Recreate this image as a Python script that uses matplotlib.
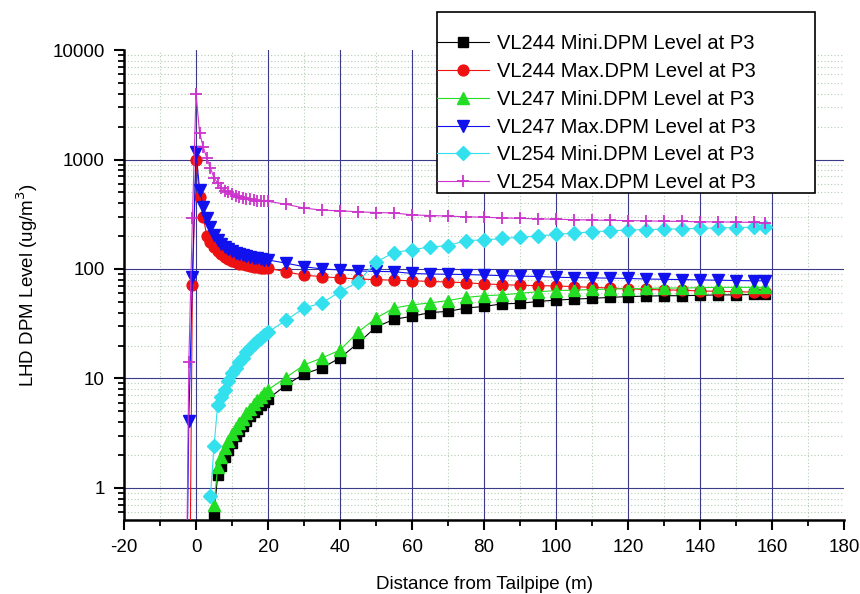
import numpy as np
import matplotlib
matplotlib.use('Agg')
import matplotlib.pyplot as plt
from matplotlib.patches import Rectangle
from matplotlib.ticker import FixedLocator, NullFormatter, LogLocator

plt.rcParams['font.family'] = ['Liberation Sans', 'DejaVu Sans']
plt.rcParams['axes.unicode_minus'] = False

# distances (m)
x_near_max = [-3, -2, -1, 0, 1, 2, 3, 4, 5, 6, 7, 8, 9, 10, 11, 12, 13, 14, 15, 16, 17, 18, 19, 20]
x_near_min = [5, 6, 7, 8, 9, 10, 11, 12, 13, 14, 15, 16, 17, 18, 19, 20]
x_near_cyan = [4, 5, 6, 7, 8, 9, 10, 11, 12, 13, 14, 15, 16, 17, 18, 19, 20]
x_far = [25, 30, 35, 40, 45, 50, 55, 60, 65, 70, 75, 80, 85, 90, 95, 100,
         105, 110, 115, 120, 125, 130, 135, 140, 145, 150, 155, 158]

# VL244 mini / max
vl244_min = [0.58, 1.3, 1.6, 1.9, 2.2, 2.6, 3.0, 3.3, 3.7, 4.1, 4.5, 4.9, 5.3, 5.7, 6.1, 6.5,
             8.7, 11, 12.5, 15.4, 21, 29.5, 34.7, 37, 40, 41, 44, 45.5, 48, 48.6, 50.5, 52,
             53, 54, 55, 56, 56.5, 57, 57, 57.5, 58, 58, 58.5, 58.5]
vl244_max = [0.01, 0.01, 71, 1000, 450, 300, 200, 175, 158, 145, 137, 130, 124, 119, 115, 112,
             110, 108, 106, 105, 104, 103, 102, 102,
             94, 88, 85, 83, 81, 80, 79, 78, 77, 76, 75, 73, 72, 71, 70.5, 70,
             69, 68, 67, 66, 65, 64.5, 64, 63, 62.5, 62, 61.5, 61]

# VL247 mini / max
vl247_min = [0.7, 1.55, 1.9, 2.3, 2.7, 3.1, 3.5, 3.9, 4.3, 4.8, 5.3, 5.8, 6.3, 6.8, 7.3, 7.9,
             10.2, 13.3, 15.4, 18.2, 26.5, 35.6, 44, 47, 49, 51.5, 55, 57, 58, 60, 62, 63.5,
             64, 65, 65.5, 66, 66.5, 67, 67, 67.5, 68, 68, 68, 68]
vl247_max = [0.01, 4.1, 85, 1180, 530, 370, 290, 240, 205, 185, 170, 160, 152, 146, 141, 137,
             134, 131, 129, 127, 125, 124, 122, 121,
             113, 105, 100, 98, 96, 95, 94.5, 91, 90, 89.5, 89, 88, 87, 86, 85.5, 84,
             83.5, 83, 82.5, 82, 81, 80.5, 80, 79.5, 79, 78.5, 78, 78]

# VL254 mini / max
vl254_min = [0.84, 2.4, 5.7, 6.8, 7.9, 9.5, 11.3, 12.5, 14, 15.5, 17.5, 19, 20.5, 22, 23.5, 25, 26.5,
             34, 44, 49, 62, 76, 116, 141, 150, 159, 163, 182, 184, 190, 195, 200, 207,
             212, 219, 223, 227, 229, 231, 233, 235, 237, 239, 240, 241]
vl254_max = [0.01, 14, 290, 4000, 1750, 1300, 1030, 840, 680, 610, 550, 520, 505, 480, 465, 457,
             448, 440, 432, 425, 422, 420, 418, 415,
             390, 360, 345, 340, 333, 328, 325, 312, 308, 304, 300, 297, 293, 290, 287, 285,
             282, 280, 278, 277, 275, 273, 272, 270, 269, 268, 266, 265]

labels = ['VL244 Mini.DPM Level at P3', 'VL244 Max.DPM Level at P3',
          'VL247 Mini.DPM Level at P3', 'VL247 Max.DPM Level at P3',
          'VL254 Mini.DPM Level at P3', 'VL254 Max.DPM Level at P3']


def main():
    fig = plt.figure(figsize=(8.6, 5.94), dpi=100)
    ax = fig.add_axes([0.1442, 0.1246, 0.8372, 0.7912])

    series = [
        (x_near_min + x_far, vl244_min, 'black', 's', 7.3, {}),
        (x_near_max + x_far, vl244_max, '#ee1111', 'o', 7.8, {}),
        (x_near_min + x_far, vl247_min, '#22dd22', '^', 8.8, {}),
        (x_near_max + x_far, vl247_max, '#1111ee', 'v', 8.8, {}),
        (x_near_cyan + x_far, vl254_min, '#33e0ee', 'D', 6.8, {}),
        (x_near_max + x_far, vl254_max, '#cc33cc', '+', 9.0, {'markeredgewidth': 1.3}),
    ]
    handles = []
    for xs, ys, col, mk, ms, extra in series:
        h, = ax.plot(xs, ys, color=col, lw=0.8, marker=mk, ms=ms,
                     markerfacecolor=col, markeredgecolor=col, zorder=3, **extra)
        handles.append(h)

    ax.set_yscale('log')
    ax.set_xlim(-20, 180)
    ax.set_ylim(0.51, 10000)

    # grid: navy majors, light dotted minors
    for gx in range(-10, 180, 20):
        ax.axvline(gx, color='#b4ccb4', lw=0.8, ls=(0, (1, 2)), zorder=1)
    for dec in [0.1, 1, 10, 100, 1000]:
        for m in range(2, 10):
            ax.axhline(dec * m, color='#b4ccb4', lw=0.8, ls=(0, (1, 2)), zorder=1)
    for gx in range(0, 170, 20):
        ax.axvline(gx, color='#3a3a88', lw=0.8, zorder=2)
    for gy in [1, 10, 100, 1000]:
        ax.axhline(gy, color='#3a3a88', lw=0.8, zorder=2)

    ax.spines['top'].set_visible(False)
    ax.spines['right'].set_visible(False)
    ax.spines['left'].set_linewidth(1.8)
    ax.spines['bottom'].set_linewidth(1.8)

    ax.set_xticks(range(-20, 200, 20))
    ax.xaxis.set_minor_locator(FixedLocator(range(-10, 180, 20)))
    ax.set_yticks([1, 10, 100, 1000, 10000])
    ax.set_yticklabels(['1', '10', '100', '1000', '10000'])
    ax.yaxis.set_minor_locator(LogLocator(base=10, subs=np.arange(2, 10), numticks=20))
    ax.yaxis.set_minor_formatter(NullFormatter())
    ax.tick_params(which='major', direction='out', length=7, width=1.5, labelsize=13.5, pad=7)
    ax.tick_params(which='minor', direction='out', length=4, width=1.3)

    ax.set_xlabel('Distance from Tailpipe (m)', fontsize=13.5, labelpad=14)
    ax.set_ylabel('LHD DPM Level (ug/m$^3$)', fontsize=13.5, labelpad=9)

    # legend box sits over the top of the plot
    box = Rectangle((437 / 860, 1 - 193 / 594), (815 - 437) / 860, (193 - 12) / 594,
                    transform=fig.transFigure, facecolor='white', edgecolor='black',
                    lw=1.2, zorder=5)
    fig.patches.append(box)
    leg = fig.legend(handles, labels, loc='upper left', bbox_to_anchor=(437 / 860, 1 - 34 / 594),
                     frameon=False, fontsize=14.5, handlelength=2.6, handletextpad=0.4,
                     labelspacing=0.44, borderpad=0, borderaxespad=0)
    leg.set_zorder(6)

    fig.savefig('out.png', dpi=100)


if __name__ == "__main__":
    main()
